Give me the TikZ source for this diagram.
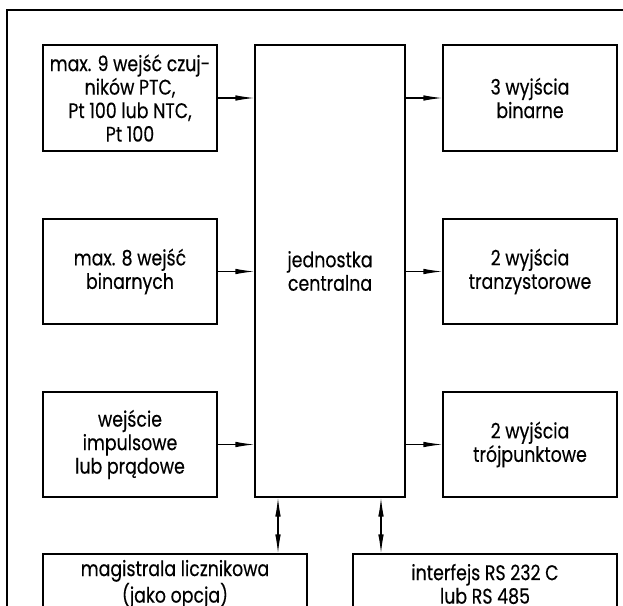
\documentclass[tikz,border=0pt]{standalone}
\usepackage{fontspec}
\setmainfont[FakeStretch=0.82,FakeBold=0.3]{Poppins}
\usetikzlibrary{arrows.meta}
\tikzset{
  blk/.style={draw=black, line width=1.1pt, rectangle, inner sep=0pt, align=center,
    font=\fontsize{21.2}{23.5}\selectfont},
  conn/.style={line width=1.1pt, -{Latex[length=19pt,width=5.5pt]}},
  bidir/.style={line width=1.1pt, {Latex[length=19pt,width=5.5pt]}-{Latex[length=19pt,width=5.5pt]}},
  frame/.style={line width=2.3pt, draw=black}
}
\begin{document}
\begin{tikzpicture}[x=1pt,y=-1pt]
\useasboundingbox (0,0) rectangle (623,605);
\clip (0,0) rectangle (623,605);
\draw[frame] (7,640) -- (7,10) -- (660,10);
% left column
\node[blk, minimum width=174pt, minimum height=106pt] (in1) at (130,98)
  {max. 9 wejść czuj-\\ników PTC,\\Pt 100 lub NTC,\\Pt 100};
\node[blk, minimum width=174pt, minimum height=105pt] (in2) at (130,271.5)
  {max. 8 wejść\\binarnych};
\node[blk, minimum width=174pt, minimum height=105pt] (in3) at (130,444.5)
  {wejście\\impulsowe\\lub prądowe};
% centre
\node[blk, minimum width=150pt, minimum height=452pt] (cpu) at (330,271)
  {jednostka\\centralna};
% right column
\node[blk, minimum width=174pt, minimum height=106pt] (out1) at (530,98)
  {3 wyjścia\\binarne};
\node[blk, minimum width=174pt, minimum height=105pt] (out2) at (530,271.5)
  {2 wyjścia\\tranzystorowe};
\node[blk, minimum width=174pt, minimum height=105pt] (out3) at (530,444.5)
  {2 wyjścia\\trójpunktowe};
% bottom
\node[blk, minimum width=264pt, minimum height=60pt] (bus) at (175,584)
  {magistrala licznikowa\\(jako opcja)};
\node[blk, minimum width=264pt, minimum height=60pt] (rs) at (485,584)
  {interfejs RS 232 C\\lub RS 485};
% connectors
\draw[conn] (in1.east) -- (in1.east -| cpu.west);
\draw[conn] (in2.east) -- (in2.east -| cpu.west);
\draw[conn] (in3.east) -- (in3.east -| cpu.west);
\draw[conn] (out1.west -| cpu.east) -- (out1.west);
\draw[conn] (out2.west -| cpu.east) -- (out2.west);
\draw[conn] (out3.west -| cpu.east) -- (out3.west);
\coordinate (c1) at ([xshift=-52pt]cpu.south);
\coordinate (c2) at ([xshift=51pt]cpu.south);
\draw[bidir] (c1) -- (c1 |- bus.north);
\draw[bidir] (c2) -- (c2 |- rs.north);
\end{tikzpicture}
\end{document}
